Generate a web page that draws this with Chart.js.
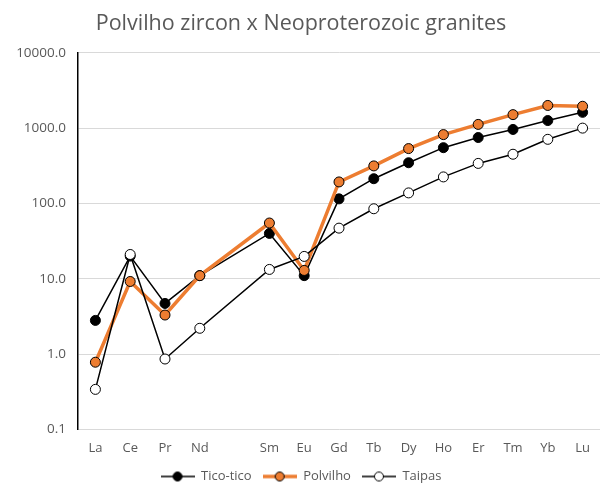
<!DOCTYPE html>
<html>
<head>
<meta charset="utf-8">
<script src="https://cdn.jsdelivr.net/npm/chart.js@4"></script>
<style>
  body { margin: 0; background: #fff; }
</style>
</head>
<body>
<canvas id="myChart" width="606" height="493"></canvas>
<script>
const labels = ['La', 'Ce', 'Pr', 'Nd', '', 'Sm', 'Eu', 'Gd', 'Tb', 'Dy', 'Ho', 'Er', 'Tm', 'Yb', 'Lu'];
const ticoTico = [2.8, 20, 4.7, 11, null, 40, 11, 115, 213, 347, 550, 750, 960, 1260, 1620];
const polvilho = [0.78, 9.2, 3.3, 11, null, 55, 12.9, 193, 315, 535, 820, 1120, 1510, 2000, 1950];
const taipas = [0.34, 21, 0.86, 2.2, null, 13.3, 19.8, 47, 85, 138, 225, 340, 450, 710, 1000];
const yTicks = [0.1, 1, 10, 100, 1000, 10000];

const FONT = '"Open Sans", sans-serif';

// little line+marker icon for the legend
function legendIcon(lineColor, lineWidth, fill) {
  const c = document.createElement('canvas');
  c.width = 34; c.height = 12;
  const ctx = c.getContext('2d');
  ctx.strokeStyle = lineColor;
  ctx.lineWidth = lineWidth;
  ctx.beginPath();
  ctx.moveTo(0, 6); ctx.lineTo(34, 6);
  ctx.stroke();
  ctx.beginPath();
  ctx.arc(17, 6, 4.5, 0, Math.PI * 2);
  ctx.fillStyle = fill;
  ctx.fill();
  ctx.lineWidth = 1;
  ctx.strokeStyle = '#000';
  ctx.stroke();
  return c;
}

const data = {
  labels: labels,
  datasets: [{
    label: 'Tico-tico',
    data: ticoTico,
    borderColor: '#000',
    borderWidth: 1.5,
    backgroundColor: '#000',
    pointBackgroundColor: '#000',
    pointBorderColor: '#000',
    pointRadius: 5,
    pointBorderWidth: 1,
    order: 2,
    icon: legendIcon('#000', 1.5, '#000')
  }, {
    label: 'Polvilho',
    data: polvilho,
    borderColor: '#ED7D31',
    borderWidth: 3.5,
    backgroundColor: '#ED7D31',
    pointBackgroundColor: '#ED7D31',
    pointBorderColor: '#000',
    pointRadius: 5,
    pointBorderWidth: 1,
    order: 1,
    icon: legendIcon('#ED7D31', 3.5, '#ED7D31')
  }, {
    label: 'Taipas',
    data: taipas,
    borderColor: '#000',
    borderWidth: 1.5,
    backgroundColor: '#fff',
    pointBackgroundColor: '#fff',
    pointBorderColor: '#000',
    pointRadius: 5,
    pointBorderWidth: 1,
    order: 0,
    icon: legendIcon('#000', 1.5, '#fff')
  }]
};

const config = {
  type: 'line',
  data: data,
  options: {
    responsive: false,
    animation: false,
    spanGaps: true,
    layout: { padding: { left: 0, right: 4, top: 0, bottom: 0 } },
    plugins: {
      title: {
        display: true,
        text: 'Polvilho zircon x Neoproterozoic granites',
        color: '#595959',
        font: { family: FONT, size: 21.5, weight: 'normal' },
        padding: { top: 11, bottom: 16 }
      },
      legend: {
        position: 'bottom',
        labels: {
          usePointStyle: true,
          pointStyleWidth: 34,
          color: '#595959',
          font: { family: FONT, size: 13 },
          padding: 11,
          generateLabels: function (chart) {
            return chart.data.datasets.map((ds, i) => ({
              text: ds.label,
              pointStyle: ds.icon,
              fillStyle: ds.backgroundColor,
              strokeStyle: ds.borderColor,
              lineWidth: 0,
              fontColor: '#595959',
              datasetIndex: i
            }));
          }
        }
      },
      tooltip: { enabled: false }
    },
    scales: {
      x: {
        offset: true,
        grid: { display: false },
        border: { display: false },
        ticks: {
          color: '#595959',
          font: { family: FONT, size: 13 },
          padding: 3,
          autoSkip: false,
          maxRotation: 0
        }
      },
      y: {
        type: 'logarithmic',
        min: 0.1,
        max: 10000,
        afterBuildTicks: function (scale) {
          scale.ticks = yTicks.map(v => ({ value: v }));
        },
        afterFit: function (scale) {
          scale.width = 78;
        },
        grid: { color: '#d9d9d9', lineWidth: 1, drawTicks: false },
        border: { display: true, color: '#000', width: 1.5 },
        ticks: {
          color: '#595959',
          font: { family: FONT, size: 13.5 },
          padding: 12,
          callback: function (v) { return Number(v).toFixed(1); }
        }
      }
    }
  }
};

const myChart = new Chart(document.getElementById('myChart'), config);
</script>
</body>
</html>
